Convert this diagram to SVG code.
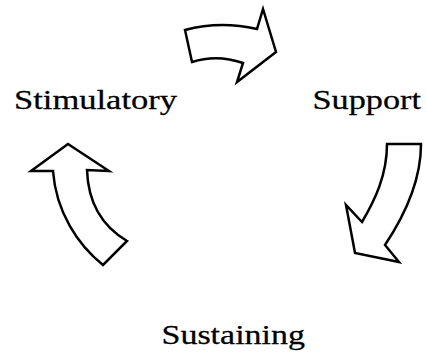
<svg xmlns="http://www.w3.org/2000/svg" width="427" height="357" viewBox="0 0 427 357">
  <style>
    .label { font-family: "Liberation Serif", "Times New Roman", serif; font-size: 26.5px; fill: #000; stroke: #000; stroke-width: 0.25; }
    .arrow { fill: #fff; stroke: #000; stroke-width: 2.5; stroke-linejoin: miter; }
  </style>
  <rect width="427" height="357" fill="#fff"/>

  <!-- cycle labels, set in a wide serif -->
  <g id="stimulatory" transform="translate(14,109) scale(1.3,1)">
    <text class="label" x="0" y="0" textLength="125.4" lengthAdjust="spacingAndGlyphs">Stimulatory</text>
  </g>
  <g id="support" transform="translate(312.5,109) scale(1.3,1)">
    <text class="label" x="0" y="0" textLength="83.5" lengthAdjust="spacingAndGlyphs">Support</text>
  </g>
  <g id="sustaining" transform="translate(161.5,344) scale(1.3,1)">
    <text class="label" x="0" y="0" textLength="110.4" lengthAdjust="spacingAndGlyphs">Sustaining</text>
  </g>

  <!-- block arrows linking the stages -->
  <g id="connectors">
    <!-- Stimulatory to Support -->
    <path class="arrow" d="M185,30 Q220,20.5 257,29 L263,9 L276,52 L237,82 L243,63 Q217,54 192,62 Z"/>
    <!-- Support to Sustaining -->
    <path class="arrow" d="M387,144 L421,144 C421,180 405,215 385,245 L399,262 L355,253 L346,205 L362,222 C375,200 387,175 387,144 Z"/>
    <!-- Sustaining to Stimulatory -->
    <path class="arrow" d="M68,144 L109,171 L87,170 C88,200 100,225 127,241 L103,265 C78,245 56,212 53,171 L31,171 Z"/>
  </g>
</svg>
